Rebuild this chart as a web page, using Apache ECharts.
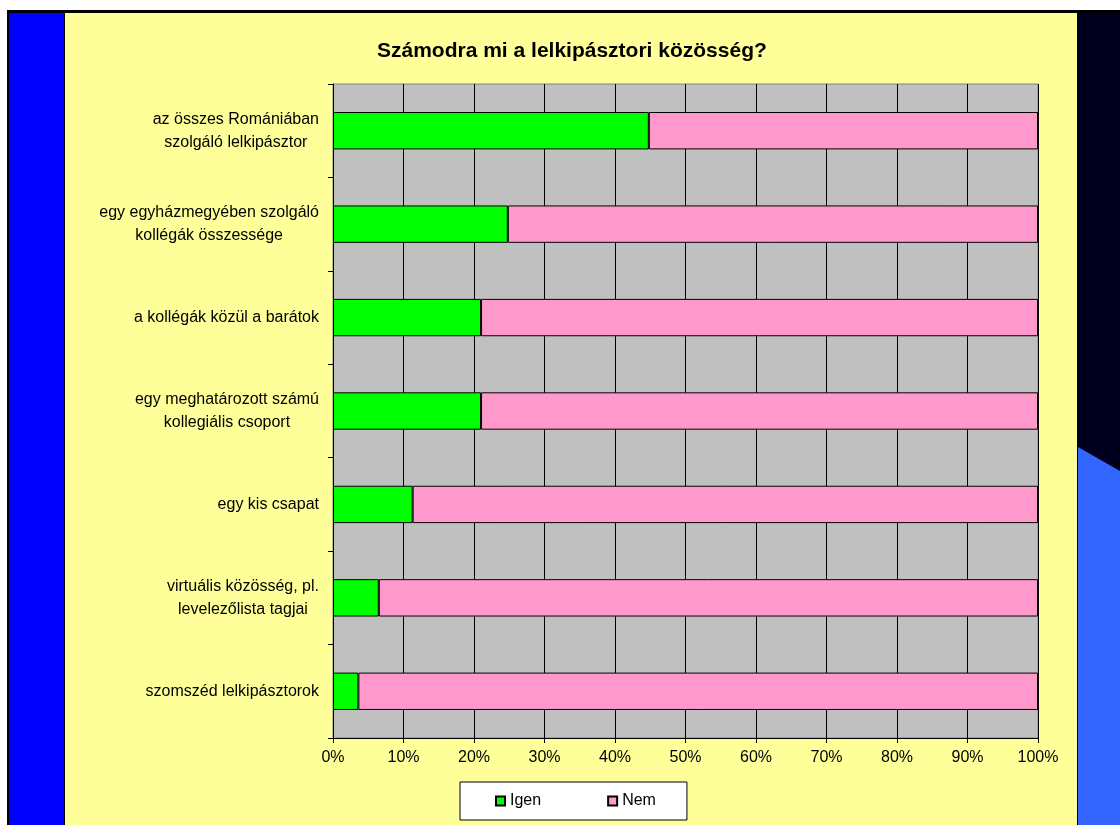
<!DOCTYPE html>
<html>
<head>
<meta charset="utf-8">
<script src="https://cdn.jsdelivr.net/npm/echarts@6/dist/echarts.min.js"></script>
<style>
  html, body { margin: 0; padding: 0; background: #fff; }
  #main { width: 1120px; height: 825px; }
</style>
</head>
<body>
<div id="main"></div>
<script>
// kategóriák (fentről lefelé)
const categories = [
  'az összes Romániában\nszolgáló lelkipásztor',
  'egy egyházmegyében szolgáló\nkollégák összessége',
  'a kollégák közül a barátok',
  'egy meghatározott számú\nkollegiális csoport',
  'egy kis csapat',
  'virtuális közösség, pl.\nlevelezőlista tagjai',
  'szomszéd lelkipásztorok'
];
const igen = [44.8, 24.8, 21.0, 21.0, 11.3, 6.5, 3.6];
const nem = [55.2, 75.2, 79.0, 79.0, 88.7, 93.5, 96.4];
const xTicks = [0, 10, 20, 30, 40, 50, 60, 70, 80, 90, 100];

const FONT = 'Liberation Sans, Arial, sans-serif';

const chart = echarts.init(document.getElementById('main'));

// háttér dísz (dia keret)
const decor = [
  { type: 'rect', shape: { x: 7, y: 10, width: 1113, height: 815 }, style: { fill: '#000' }, silent: true },
  { type: 'rect', shape: { x: 9, y: 13, width: 55, height: 812 }, style: { fill: '#0000FF' }, silent: true },
  { type: 'rect', shape: { x: 65, y: 13, width: 1012, height: 812 }, style: { fill: '#FFFF99' }, silent: true },
  { type: 'rect', shape: { x: 1078, y: 13, width: 42, height: 812 }, style: { fill: '#00001E' }, silent: true },
  { type: 'polygon', shape: { points: [[1078, 447], [1120, 471], [1120, 825], [1078, 825]] }, style: { fill: '#3366FF' }, silent: true }
];

const option = {
  animation: false,
  backgroundColor: '#fff',
  graphic: { elements: decor.map(e => Object.assign({ z: -10 }, e)) },
  title: {
    text: 'Számodra mi a lelkipásztori közösség?',
    left: 372,
    top: 36,
    textStyle: { fontFamily: FONT, fontSize: 21, fontWeight: 'bold', color: '#000' }
  },
  legend: {
    data: ['Igen', 'Nem'],
    left: 460,
    top: 782,
    orient: 'horizontal',
    backgroundColor: '#fff',
    borderColor: '#000',
    borderWidth: 1,
    padding: [11, 31, 11, 35],
    itemGap: 66,
    itemWidth: 9,
    itemHeight: 9,
    icon: 'rect',
    textStyle: { fontFamily: FONT, fontSize: 16, color: '#000' }
  },
  grid: {
    left: 333, right: 82, top: 84, bottom: 87,
    show: true,
    backgroundColor: '#C0C0C0',
    borderColor: '#808080',
    borderWidth: 1
  },
  xAxis: {
    type: 'value',
    min: 0, max: 100, interval: 10,
    axisLine: { show: true, lineStyle: { color: '#000', width: 1 } },
    axisTick: { show: true, length: 5, lineStyle: { color: '#000' } },
    axisLabel: {
      margin: 12,
      fontFamily: FONT, fontSize: 16, color: '#000',
      formatter: v => xTicks.includes(v) ? v + '%' : ''
    },
    splitLine: { show: true, lineStyle: { color: '#000', width: 1 } }
  },
  yAxis: {
    type: 'category',
    inverse: true,
    data: categories,
    axisLine: { show: true, lineStyle: { color: '#000', width: 1 } },
    axisTick: { show: true, length: 5, lineStyle: { color: '#000' } },
    axisLabel: {
      margin: 14,
      color: '#000',
      formatter: v => v.split('\n').map(s => '{c|' + s + '}').join('\n'),
      rich: {
        c: { align: 'center', fontFamily: FONT, fontSize: 16, lineHeight: 23, color: '#000' }
      }
    },
    splitLine: { show: false }
  },
  series: [
    {
      name: 'Igen',
      type: 'bar',
      stack: 'total',
      barWidth: '40%',
      data: igen,
      itemStyle: { color: '#00FF00', borderColor: '#000', borderWidth: 1 }
    },
    {
      name: 'Nem',
      type: 'bar',
      stack: 'total',
      barWidth: '40%',
      data: nem,
      itemStyle: { color: '#FF99CC', borderColor: '#000', borderWidth: 1 }
    }
  ]
};

chart.setOption(option);
</script>
</body>
</html>
